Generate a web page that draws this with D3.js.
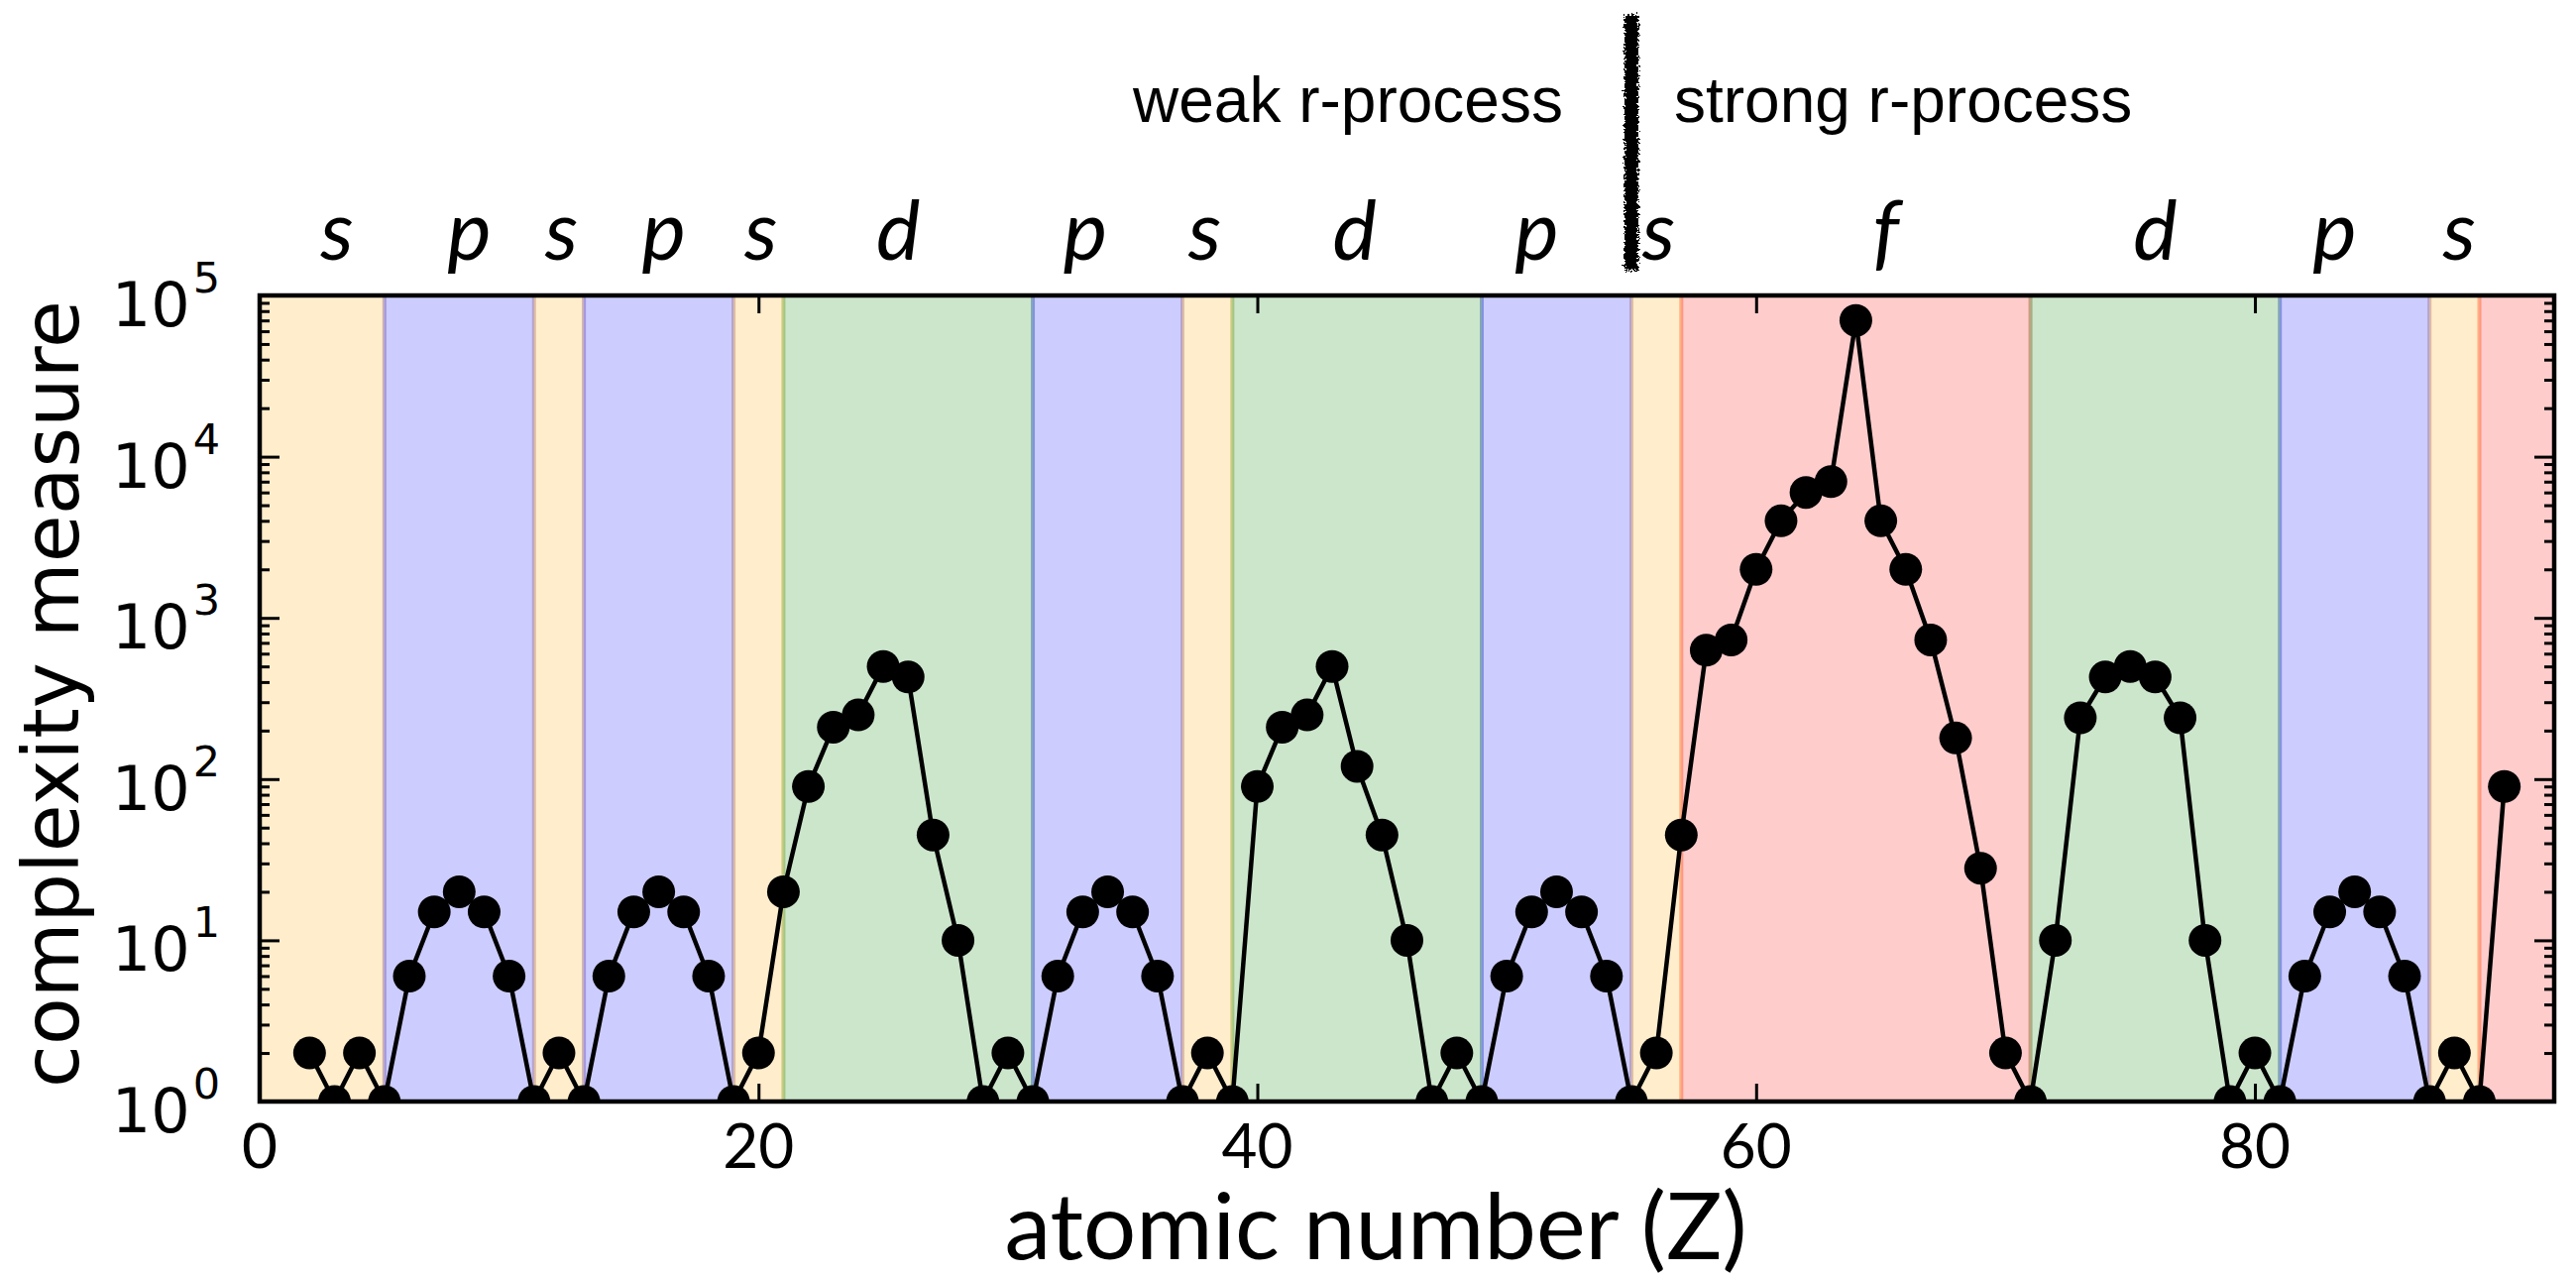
<!DOCTYPE html>
<html>
<head>
<meta charset="utf-8">
<script src="https://cdn.jsdelivr.net/npm/d3@7"></script>
<style>
  body { margin: 0; background: #fff; }
  svg { display: block; }
</style>
</head>
<body>
<svg id="chart" width="2599" height="1289"></svg>
<script>
// Complexity measure per element, by atomic number
const atomicNumber = [
   2,  3,  4,  5,  6,  7,  8,  9, 10, 11, 12, 13, 14, 15, 16, 17, 18, 19, 20,
  21, 22, 23, 24, 25, 26, 27, 28, 29, 30, 31, 32, 33, 34, 35, 36, 37, 38, 39,
  40, 41, 42, 43, 44, 45, 46, 47, 48, 49, 50, 51, 52, 53, 54, 55, 56, 57, 58,
  59, 60, 61, 62, 63, 64, 65, 66, 67, 68, 69, 70, 71, 72, 73, 74, 75, 76, 77,
  78, 79, 80, 81, 82, 83, 84, 85, 86, 87, 88, 89, 90
];
const complexity = [
   2,   1,   2,   1,   6,  15,  20,  15,   6,   1,   2,   1,   6,  15,  20,  15,   6,   1,   2,
  20,  90, 210, 250, 500, 430,  45,  10,   1,   2,   1,   6,  15,  20,  15,   6,   1,   2,   1,
  90, 210, 250, 500, 120,  45,  10,   1,   2,   1,   6,  15,  20,  15,   6,   1,   2,  45, 630,
 730, 2000, 4000, 6000, 7000, 70000, 4000, 2000, 730, 180, 28,   2,   1,  10, 240, 430, 500, 430, 240,
  10,   1,   2,   1,   6,  15,  20,  15,   6,   1,   2,   1,  90
];

// Periodic-table blocks shaded behind the curve
const bandStart = [0, 5, 11, 13, 19, 21, 31, 37, 39, 49, 55, 57, 71, 81, 87, 89];
const bandEnd   = [5, 11, 13, 19, 21, 31, 37, 39, 49, 55, 57, 71, 81, 87, 89, 92];
const bandBlock = ["s","p","s","p","s","d","p","s","d","p","s","f","d","p","s","f"];

// Block letters written above the frame
const blockLabel  = ["s","p","s","p","s","d","p","s","d","p","s","f","d","p","s"];
const blockLabelZ = [3.1, 8.4, 12.1, 16.2, 20.1, 25.6, 33.1, 37.9, 43.9, 51.2, 56.1, 65.2, 76.0, 83.2, 88.2];

const xTickValues = [0, 20, 40, 60, 80];
const yExponents = [0, 1, 2, 3, 4, 5];

const processSplitZ = 55;
const processLabels = ["weak r-process", "strong r-process"];

const blockColor = { s: "orange", p: "blue", d: "green", f: "red" };

const W = 2599, H = 1289;
const plot = { left: 262, right: 2577, top: 298, bottom: 1111 };

const svg = d3.select("#chart");

const x = d3.scaleLinear().domain([0, 92]).range([plot.left, plot.right]);
const y = d3.scaleLog().domain([1, 1e5]).range([plot.bottom, plot.top]);

const defs = svg.append("defs");
defs.append("clipPath").attr("id", "plotClip")
  .append("rect")
  .attr("x", plot.left).attr("y", plot.top)
  .attr("width", plot.right - plot.left).attr("height", plot.bottom - plot.top);

const rough = defs.append("filter").attr("id", "rough")
  .attr("x", "-100%").attr("y", "-5%").attr("width", "300%").attr("height", "110%");
rough.append("feTurbulence").attr("type", "fractalNoise")
  .attr("baseFrequency", "0.45").attr("numOctaves", 2).attr("seed", 7).attr("result", "noise");
rough.append("feDisplacementMap").attr("in", "SourceGraphic").attr("in2", "noise")
  .attr("scale", 9).attr("xChannelSelector", "R").attr("yChannelSelector", "G");

// shaded block bands
const bands = bandStart.map((s, i) => ({ s, e: bandEnd[i], b: bandBlock[i] }));
svg.append("g").attr("clip-path", "url(#plotClip)")
  .selectAll("rect").data(bands).join("rect")
  .attr("x", d => x(d.s)).attr("width", d => x(d.e) - x(d.s))
  .attr("y", plot.top).attr("height", plot.bottom - plot.top)
  .attr("fill", d => blockColor[d.b]).attr("fill-opacity", 0.2)
  .attr("stroke", d => blockColor[d.b]).attr("stroke-opacity", 0.2)
  .attr("stroke-width", 4);

// curve and markers
const pts = atomicNumber.map((z, i) => ({ z, v: complexity[i] }));
const dataG = svg.append("g").attr("clip-path", "url(#plotClip)");
dataG.append("path").datum(pts)
  .attr("fill", "none").attr("stroke", "#000").attr("stroke-width", 4.5)
  .attr("stroke-linejoin", "round")
  .attr("d", d3.line().x(d => x(d.z)).y(d => y(d.v)));
dataG.selectAll("circle").data(pts).join("circle")
  .attr("cx", d => x(d.z)).attr("cy", d => y(d.v)).attr("r", 16.5).attr("fill", "#000");

// ticks (all pointing inward)
const minorVals = [];
yExponents.slice(0, -1).forEach(e => { for (let m = 2; m <= 9; m++) minorVals.push(m * Math.pow(10, e)); });
const majorVals = yExponents.map(e => Math.pow(10, e));

function tickAxis(axisGen, transform) {
  const g = svg.append("g").attr("transform", transform).call(axisGen);
  g.select(".domain").remove();
  g.selectAll(".tick line").attr("stroke", "#000").attr("stroke-width", 3);
  g.selectAll(".tick text").remove();
  return g;
}
tickAxis(d3.axisLeft(y).tickValues(majorVals).tickSize(-20).tickFormat(""), `translate(${plot.left},0)`);
tickAxis(d3.axisLeft(y).tickValues(minorVals).tickSize(-10).tickFormat(""), `translate(${plot.left},0)`);
tickAxis(d3.axisRight(y).tickValues(majorVals).tickSize(-20).tickFormat(""), `translate(${plot.right},0)`);
tickAxis(d3.axisRight(y).tickValues(minorVals).tickSize(-10).tickFormat(""), `translate(${plot.right},0)`);
tickAxis(d3.axisBottom(x).tickValues(xTickValues).tickSize(-18).tickFormat(""), `translate(0,${plot.bottom})`);
tickAxis(d3.axisTop(x).tickValues(xTickValues).tickSize(-18).tickFormat(""), `translate(0,${plot.top})`);

// frame
svg.append("rect")
  .attr("x", plot.left).attr("y", plot.top)
  .attr("width", plot.right - plot.left).attr("height", plot.bottom - plot.top)
  .attr("fill", "none").attr("stroke", "#000").attr("stroke-width", 4.5);

// y tick labels: 10^n
const yLab = svg.append("g").attr("font-family", "'DejaVu Sans', sans-serif").attr("fill", "#000");
yExponents.forEach(e => {
  const t = yLab.append("text")
    .attr("x", 222).attr("y", y(Math.pow(10, e)) + 31)
    .attr("text-anchor", "end").attr("font-size", 62);
  t.append("tspan").text("10");
  t.append("tspan").attr("dx", 3).attr("dy", -34).attr("font-size", 43).text(String(e));
});

// x tick labels
svg.append("g").selectAll("text").data(xTickValues).join("text")
  .attr("x", d => x(d)).attr("y", 1178)
  .attr("text-anchor", "middle")
  .attr("font-family", "Lato, 'Open Sans', sans-serif").attr("font-size", 62)
  .text(d => d);

// axis titles
svg.append("text")
  .attr("x", 1388).attr("y", 1270).attr("text-anchor", "middle")
  .attr("font-family", "Lato, 'Open Sans', sans-serif").attr("font-size", 94)
  .text("atomic number (Z)");

svg.append("text")
  .attr("transform", "translate(79,700) rotate(-90)")
  .attr("text-anchor", "middle")
  .attr("font-family", "'DejaVu Sans', sans-serif").attr("font-size", 78)
  .text("complexity measure");

// block letters above the frame
svg.append("g").selectAll("text").data(blockLabel).join("text")
  .attr("x", (d, i) => x(blockLabelZ[i])).attr("y", 262)
  .attr("text-anchor", "middle")
  .attr("font-family", "Lato, 'Open Sans', sans-serif").attr("font-style", "italic")
  .attr("font-size", 84)
  .text(d => d);

// weak / strong r-process divider
const splitX = x(processSplitZ);
svg.append("rect")
  .attr("x", splitX - 7).attr("y", 15).attr("width", 14).attr("height", 258)
  .attr("fill", "#000").attr("filter", "url(#rough)");

svg.append("text")
  .attr("x", splitX - 69).attr("y", 123).attr("text-anchor", "end")
  .attr("font-family", "'Liberation Sans', Arial, sans-serif").attr("font-size", 64)
  .text(processLabels[0]);
svg.append("text")
  .attr("x", splitX + 43).attr("y", 123).attr("text-anchor", "start")
  .attr("font-family", "'Liberation Sans', Arial, sans-serif").attr("font-size", 64)
  .text(processLabels[1]);
</script>
</body>
</html>
